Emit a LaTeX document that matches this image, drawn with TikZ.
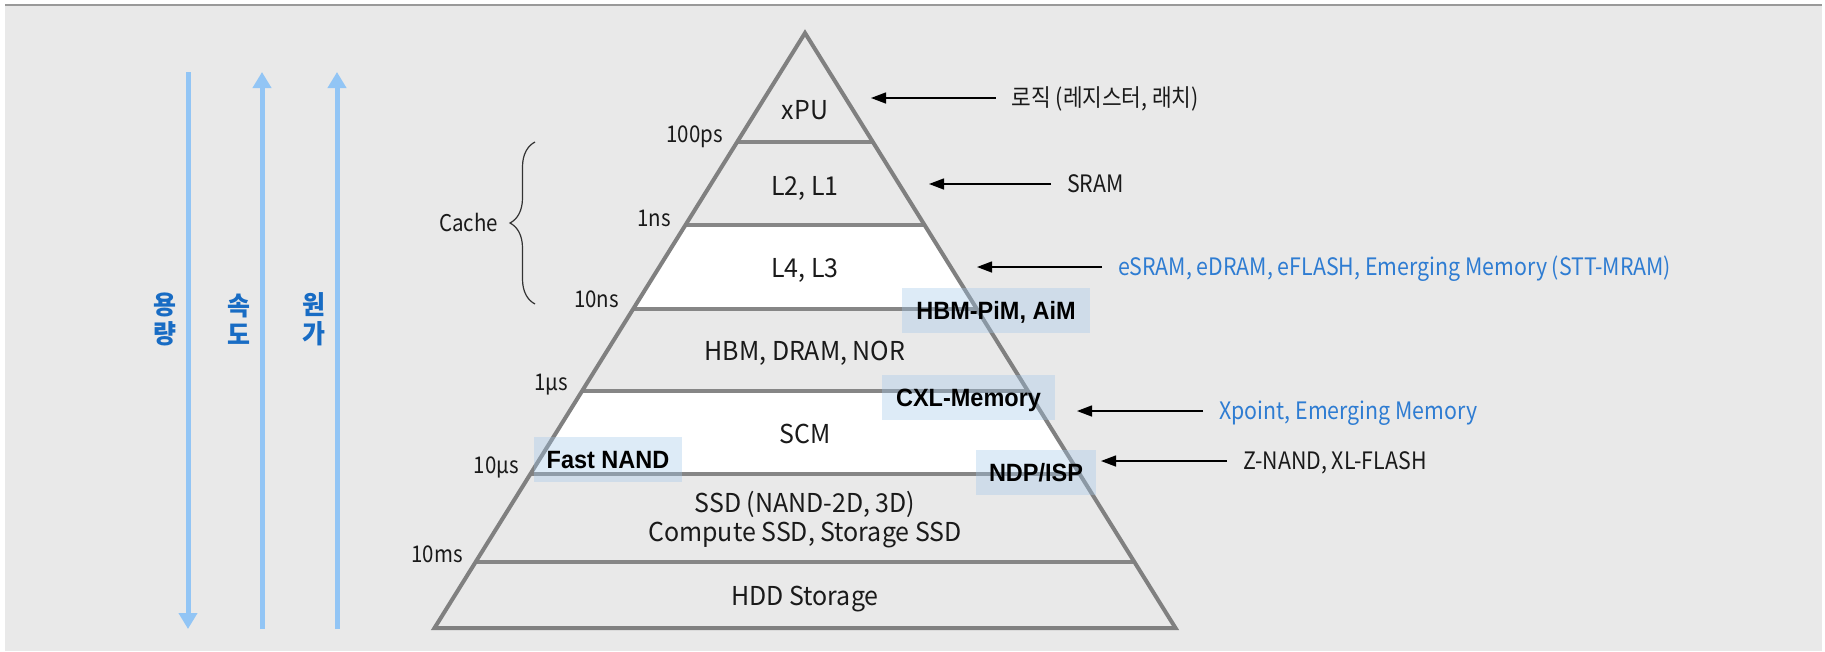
\documentclass[tikz,border=0pt]{standalone}
\usepackage{fontspec}
\setmainfont{Noto Sans CJK KR}[FakeStretch=0.96]
\newfontfamily\narrowfont{Noto Sans CJK KR}[FakeStretch=0.89]
\newfontfamily\arialb{Liberation Sans}[FakeStretch=0.94]
\usetikzlibrary{arrows.meta,decorations.pathreplacing}
\definecolor{bg}{RGB}{233,233,233}
\definecolor{pgray}{RGB}{128,128,128}
\definecolor{txt}{RGB}{26,26,26}
\definecolor{arrblue}{RGB}{146,197,245}
\definecolor{lblue}{RGB}{24,108,196}
\definecolor{tblue}{RGB}{46,124,210}
\definecolor{hlblue}{RGB}{160,198,234}
\tikzset{
  lay/.style={anchor=base, inner sep=0pt, font=\fontsize{26}{30}\selectfont, text=txt},
  lat/.style={anchor=base east, inner sep=0pt, font=\narrowfont\fontsize{23}{27}\selectfont, text=txt},
  rlab/.style={anchor=base west, inner sep=0pt, font=\narrowfont\fontsize{24}{28}\selectfont, text=txt},
  hl/.style={fill=hlblue, fill opacity=0.35, text opacity=1, minimum height=45pt,
    inner xsep=0pt, inner ysep=0pt, text height=18pt, text depth=0pt,
    font=\arialb\bfseries\fontsize{25}{29}\selectfont, text=black},
  ptr/.style={draw=black, line width=1.4pt, -{Triangle[length=15pt,width=11pt]}},
  bluearr/.style={draw=arrblue, line width=5pt, -{Triangle[length=16pt,width=18pt]}},
  vlab/.style={font=\bfseries\fontsize{26}{29}\selectfont, text=lblue, align=center, inner sep=0pt},
  pyr/.style={draw=pgray, line width=4pt},
  hline/.style={draw=pgray!95!white, line width=3.6pt},
}
\begin{document}
\begin{tikzpicture}[x=1pt,y=-1pt]
\useasboundingbox (0,0) rectangle (1825,651);
\fill[white] (0,0) rectangle (1825,651);
\fill[bg] (5,5) rectangle (1822,651);
\draw[draw=gray!80, line width=2pt] (5,5) -- (1822,5);

% blue arrows and labels
\coordinate (a1t) at (188,72);  \coordinate (a1b) at (188,629);
\coordinate (a2t) at (262,72);  \coordinate (a2b) at (262,629);
\coordinate (a3t) at (337,72);  \coordinate (a3b) at (337,629);
\draw[bluearr] (a1t) -- (a1b);
\draw[bluearr] (a2b) -- (a2t);
\draw[bluearr] (a3b) -- (a3t);
\node[vlab] (v1) at (164.5,319) {용\\량};
\node[vlab] (v2) at (239,319) {속\\도};
\node[vlab] (v3) at (314,319) {원\\가};

% white layers
\fill[white] (685.4,225) -- (924.6,225) -- (976.9,309) -- (633.1,309) -- cycle;
\fill[white] (582.1,391) -- (1027.9,391) -- (1079.6,474) -- (530.4,474) -- cycle;

% horizontal lines
\draw[hline] (737.1,142) -- (872.9,142);
\draw[hline] (685.4,225) -- (924.6,225);
\draw[hline] (633.1,309) -- (976.9,309);
\draw[hline] (582.1,391) -- (1027.9,391);
\draw[hline] (530.4,474) -- (1079.6,474);
\draw[hline] (475.6,562) -- (1134.4,562);
% pyramid outline
\draw[pyr] (434.5,628) -- (805,33) -- (1175.5,628) -- cycle;

% layer labels
\node[lay] (xpu) at (805,119) {xPU};
\node[lay] (l21) at (805,195) {L2, L1};
\node[lay] (l43) at (805,277) {L4, L3};
\node[lay] (hbm) at (805,360) {HBM, DRAM, NOR};
\node[lay] (scm) at (805,443) {SCM};
\node[lay] (ssd1) at (805,512) {SSD (NAND-2D, 3D)};
\node[lay] (ssd2) at (805,541) {Compute SSD, Storage SSD};
\node[lay] (hdd) at (805,605) {HDD Storage};

% latency labels
\node[lat] (t100ps) at (723,142) {100ps};
\node[lat] (t1ns) at (671,226) {1ns};
\node[lat] (t10ns) at (619,307) {10ns};
\node[lat] (t1us) at (568,390) {1μs};
\node[lat] (t10us) at (519,473) {10μs};
\node[lat] (t10ms) at (463,562) {10ms};

% cache brace
\draw[decorate, decoration={brace, amplitude=25pt}, line width=1.2pt, draw=black!80]
  (535,304) -- (535,142);
\node[lat] (cache) at (498,231) {Cache};

% highlight boxes
\node[hl, minimum width=188pt] (pim) at (996,310.5) {HBM-PiM, AiM};
\node[hl, minimum width=173pt] (cxl) at (968.5,397.5) {CXL-Memory};
\node[hl, minimum width=120pt] (ndp) at (1036,472.5) {NDP/ISP};
\node[hl, minimum width=148pt] (fast) at (608,459.5) {Fast NAND};

% right labels and pointers
\coordinate (p1) at (871,98);
\coordinate (p2) at (929,184);
\coordinate (p3) at (977,267);
\coordinate (p4) at (1077,411);
\coordinate (p5) at (1101,461);
\node[rlab] (r1) at (1011.5,106) {로직 (레지스터, 래치)};
\node[rlab] (r2) at (1067,192) {SRAM};
\node[rlab, text=tblue] (r3) at (1118,275) {eSRAM, eDRAM, eFLASH, Emerging Memory (STT-MRAM)};
\node[rlab, text=tblue] (r4) at (1219,419) {Xpoint, Emerging Memory};
\node[rlab] (r5) at (1243,469) {Z-NAND, XL-FLASH};
\draw[ptr] ([xshift=-16pt]r1.base west |- p1) -- (p1);
\draw[ptr] ([xshift=-16pt]r2.base west |- p2) -- (p2);
\draw[ptr] ([xshift=-16pt]r3.base west |- p3) -- (p3);
\draw[ptr] ([xshift=-16pt]r4.base west |- p4) -- (p4);
\draw[ptr] ([xshift=-16pt]r5.base west |- p5) -- (p5);
\end{tikzpicture}
\end{document}
